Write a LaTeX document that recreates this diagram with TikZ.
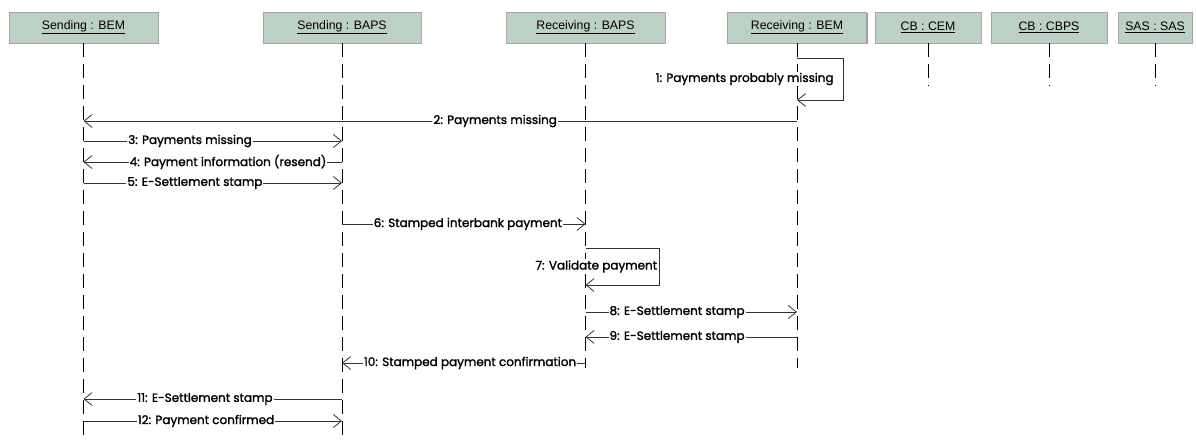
\documentclass[tikz,border=0pt]{standalone}
\usepackage{fontspec}
\newfontfamily\msgfont{Poppins}[BoldFont={Poppins}, BoldFeatures={FakeBold=1.6}]
\newfontfamily\headfont{Liberation Sans}
\usepackage{tikz}
\usetikzlibrary{arrows.meta, shadows}
\definecolor{headgreen}{HTML}{BDD0C5}
\tikzstyle{head} = [rectangle, minimum height=31pt, draw=gray!70, fill=headgreen, font=\headfont\fontsize{12.3}{14}\selectfont, drop shadow={shadow xshift=1.2pt, shadow yshift=-1.2pt, fill=gray!80, opacity=1}]
\tikzstyle{life} = [line width=0.9pt, dash pattern=on 14pt off 7pt]
\tikzstyle{msg} = [line width=0.8pt, draw=black!80, -{Straight Barb[length=8pt, width=13pt, line width=0.8pt]}]
\tikzstyle{lbl} = [fill=white, inner sep=1pt, text=black, font=\msgfont\bfseries\fontsize{12}{14}\selectfont]

\begin{document}
\begin{tikzpicture}[x=1pt, y=-1pt]
		\useasboundingbox (0,0) rectangle (1196,439);
		% heads
		\node (sbem) [head, minimum width=149pt] at (83.5,27.5) {\underline{Sending : BEM}};
		\node (sbaps) [head, minimum width=158pt] at (342,27.5) {\underline{Sending : BAPS}};
		\node (rbaps) [head, minimum width=159pt] at (585.5,27.5) {\underline{Receiving : BAPS}};
		\node (rbem) [head, minimum width=139pt] at (797,27.5) {\underline{Receiving : BEM}};
		\node (cbcem) [head, minimum width=106pt] at (928,27.5) {\underline{CB : CEM}};
		\node (cbcbps) [head, minimum width=116pt] at (1049,27.5) {\underline{CB : CBPS}};
		\node (sas) [head, minimum width=74pt] at (1155,27.5) {\underline{SAS : SAS}};
		
		% lifelines
		\coordinate (sbemend) at (83.5,439);
		\coordinate (sbapsend) at (342,439);
		\coordinate (rbapsend) at (585.5,368);
		\coordinate (rbemend) at (797,368);
		\coordinate (cbcemend) at (928,86);
		\coordinate (cbcbpsend) at (1049,86);
		\coordinate (sasend) at (1155,86);
		\draw [life] (sbem) -- (sbemend);
		\draw [life] (sbaps) -- (sbapsend);
		\draw [life] (rbaps) -- (rbapsend);
		\draw [life] (rbem) -- (rbemend);
		\draw [life] (cbcem) -- (cbcemend);
		\draw [life] (cbcbps) -- (cbcbpsend);
		\draw [life] (sas) -- (sasend);
		
		% messages
		\draw [msg] (rbem |- 0,58) -- ++(46,0) -- node[lbl, left=8pt] {1: Payments probably missing} ++(0,42) -- ++(-46,0);
		\draw [msg] (rbem |- 0,121) -- node[lbl, pos=0.423] {2: Payments missing} (sbem |- 0,121);
		\draw [msg] (sbem |- 0,141) -- node[lbl, pos=0.412] {3: Payments missing} (sbaps |- 0,141);
		\draw [msg] (sbaps |- 0,162) -- node[lbl, pos=0.441] {4: Payment information (resend)} (sbem |- 0,162);
		\draw [msg] (sbem |- 0,183) -- node[lbl, pos=0.431] {5: E-Settlement stamp} (sbaps |- 0,183);
		\draw [msg] (sbaps |- 0,224) -- node[lbl, pos=0.517] {6: Stamped interbank payment} (rbaps |- 0,224);
		\draw [msg] (rbaps |- 0,248) -- ++(74,0) -- node[lbl, left=1pt] {7: Validate payment} ++(0,37) -- ++(-74,0);
		\draw [msg] (rbaps |- 0,312) -- node[lbl, pos=0.433] {8: E-Settlement stamp} (rbem |- 0,312);
		\draw [msg] (rbem |- 0,337) -- node[lbl, pos=0.567] {9: E-Settlement stamp} (rbaps |- 0,337);
		\draw [msg] (rbaps |- 0,363) -- node[lbl, pos=0.474] {10: Stamped payment confirmation} (sbaps |- 0,363);
		\draw [msg] (sbaps |- 0,399) -- node[lbl, pos=0.53] {11: E-Settlement stamp} (sbem |- 0,399);
		\draw [msg] (sbem |- 0,421) -- node[lbl, pos=0.474] {12: Payment confirmed} (sbaps |- 0,421);
	\end{tikzpicture}
\end{document}
